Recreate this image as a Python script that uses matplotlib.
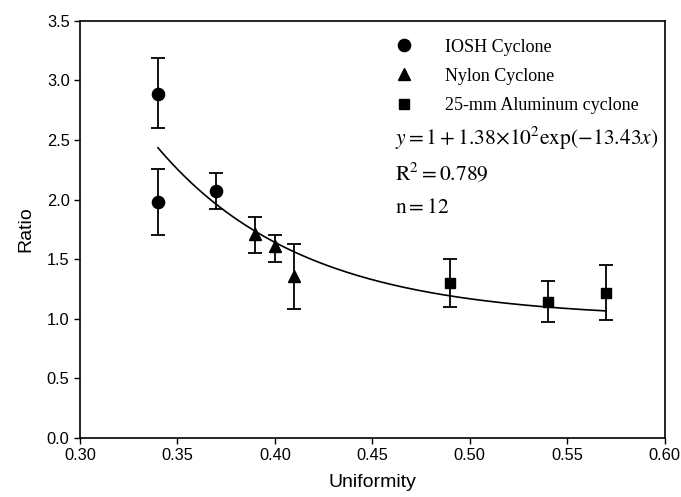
import numpy as np
import matplotlib
matplotlib.use("Agg")
import matplotlib.pyplot as plt

plt.rcParams['font.family'] = 'Liberation Sans'
plt.rcParams['mathtext.fontset'] = 'stix'

# IOSH cyclone
iosh_x = [0.34, 0.34, 0.37]
iosh_y = [2.89, 1.98, 2.07]
iosh_lo = [2.60, 1.70, 1.92]
iosh_hi = [3.19, 2.26, 2.22]

# Nylon cyclone
nylon_x = [0.39, 0.40, 0.41]
nylon_y = [1.71, 1.61, 1.36]
nylon_lo = [1.55, 1.48, 1.08]
nylon_hi = [1.85, 1.70, 1.63]

# 25-mm aluminum cyclone
alu_x = [0.49, 0.54, 0.57]
alu_y = [1.30, 1.14, 1.22]
alu_lo = [1.10, 0.97, 0.99]
alu_hi = [1.50, 1.32, 1.45]

# fit parameters y = 1 + a*exp(b*x)
a_fit = 1.38e2
b_fit = -13.43
x_fit_range = (0.34, 0.57)

fig = plt.figure(figsize=(6.81, 4.97), dpi=100)
ax = fig.add_axes([0.1175, 0.119, 0.8585, 0.839])

def draw(x, y, lo, hi, marker, ms, label):
    x = np.array(x); y = np.array(y)
    yerr = [y - np.array(lo), np.array(hi) - y]
    ax.errorbar(x, y, yerr=yerr, fmt='none', ecolor='black', elinewidth=1.3,
                capsize=5, capthick=1.3, zorder=2)
    ax.plot(x, y, linestyle='none', marker=marker, color='black', markersize=ms,
            label=label, zorder=3)

draw(iosh_x, iosh_y, iosh_lo, iosh_hi, 'o', 8.8, 'IOSH Cyclone')
draw(nylon_x, nylon_y, nylon_lo, nylon_hi, '^', 8.5, 'Nylon Cyclone')
draw(alu_x, alu_y, alu_lo, alu_hi, 's', 7.3, '25-mm Aluminum cyclone')

xf = np.linspace(x_fit_range[0], x_fit_range[1], 200)
ax.plot(xf, 1 + a_fit*np.exp(b_fit*xf), color='black', linewidth=1.2, zorder=1)

ax.set_xlim(0.30, 0.60)
ax.set_ylim(0.0, 3.5)
ax.set_xticks(np.arange(0.30, 0.601, 0.05))
ax.set_yticks(np.arange(0.0, 3.51, 0.5))
ax.set_xticklabels(['%.2f' % v for v in np.arange(0.30, 0.601, 0.05)])
ax.set_yticklabels(['%.1f' % v for v in np.arange(0.0, 3.51, 0.5)])
ax.tick_params(direction='out', length=4, width=1, labelsize=11.8, color='black')
for s in ax.spines.values():
    s.set_linewidth(1.2)
ax.set_xlabel('Uniformity', fontsize=14, va='center')
ax.set_ylabel('Ratio', fontsize=14, va='center')
ax.xaxis.set_label_coords(0.5, -0.108)
ax.yaxis.set_label_coords(-0.092, 0.5)

leg = ax.legend(loc='upper left', bbox_to_anchor=(0.511, 0.975), frameon=False,
                prop={'family': 'Liberation Serif', 'size': 13},
                handletextpad=1.25, labelspacing=0.68, borderaxespad=0)

ax.text(0.539, 0.719, r'$y = 1 + 1.38{\times}10^2\mathrm{exp}(-13.43x)$',
        transform=ax.transAxes, fontsize=15.5, va='center')
ax.text(0.539, 0.633, r'$\mathrm{R}^2 = 0.789$', transform=ax.transAxes,
        fontsize=15.5, va='center')
ax.text(0.539, 0.552, r'$\mathrm{n} = 12$', transform=ax.transAxes,
        fontsize=15.5, va='center')

fig.savefig('out.png', dpi=100)
